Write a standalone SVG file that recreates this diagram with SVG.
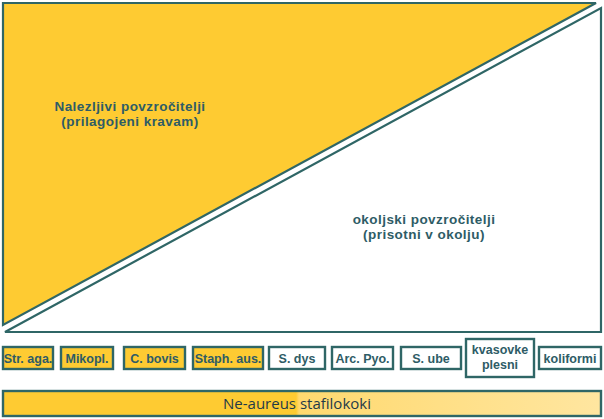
<svg xmlns="http://www.w3.org/2000/svg" width="604" height="419" viewBox="0 0 604 419">
<defs>
<style>
.tri{stroke:#2f6666;stroke-width:2.2;stroke-linejoin:miter}
.box{stroke:#2f6666;stroke-width:2.4}
.y{fill:#fecb32}
.w{fill:#ffffff}
.big{font-family:"Liberation Sans",Arial,sans-serif;font-weight:bold;font-size:13.5px;letter-spacing:0.45px;fill:#2e5c66;text-anchor:middle}
.lbl{font-family:"Liberation Sans",Arial,sans-serif;font-weight:bold;font-size:12.5px;fill:#2e5c66;text-anchor:middle}
.bar{font-family:"Open Sans","Liberation Sans",sans-serif;font-size:15px;fill:#1f3a48;text-anchor:middle}
</style>
<linearGradient id="g" x1="0" y1="0" x2="1" y2="0">
<stop offset="0" stop-color="#fecb32"/>
<stop offset="0.49" stop-color="#fecb32"/>
<stop offset="0.495" stop-color="#ffd96f"/>
<stop offset="1" stop-color="#ffe6a0"/>
</linearGradient>
</defs>
<rect width="604" height="419" fill="#ffffff"/>
<g id="nalezljivi">
<polygon class="tri y" points="3,3 596,3 3,325"/>
<text class="big" x="130" y="111">Nalezljivi povzročitelji<tspan x="130" dy="15.3">(prilagojeni kravam)</tspan></text>
</g>
<g id="okoljski">
<polygon class="tri w" points="601,8 601,332 5,332"/>
<text class="big" x="424" y="224">okoljski povzročitelji<tspan x="424" dy="15.3">(prisotni v okolju)</tspan></text>
</g>
<g id="str-aga"><rect class="box y" x="3" y="347" width="50" height="22"/><text class="lbl" x="28" y="362.5">Str. aga.</text></g>
<g id="mikopl"><rect class="box y" x="61" y="347" width="52" height="22"/><text class="lbl" x="87" y="362.5">Mikopl.</text></g>
<g id="c-bovis"><rect class="box y" x="124" y="347" width="61" height="22"/><text class="lbl" x="154.5" y="362.5">C. bovis</text></g>
<g id="staph-aus"><rect class="box y" x="193" y="347" width="70" height="22"/><text class="lbl" x="228" y="362.5">Staph. aus.</text></g>
<g id="s-dys"><rect class="box w" x="269" y="347" width="56" height="22"/><text class="lbl" x="297" y="362.5">S. dys</text></g>
<g id="arc-pyo"><rect class="box w" x="332" y="347" width="61" height="22"/><text class="lbl" x="362.5" y="362.5">Arc. Pyo.</text></g>
<g id="s-ube"><rect class="box w" x="401" y="347" width="60" height="22"/><text class="lbl" x="431" y="362.5">S. ube</text></g>
<g id="kvasovke"><rect class="box w" x="466" y="339" width="68" height="38"/><text class="lbl" x="500" y="354">kvasovke<tspan x="500" dy="15">plesni</tspan></text></g>
<g id="koliformi"><rect class="box w" x="539" y="347" width="62" height="22"/><text class="lbl" x="570" y="362.5">koliformi</text></g>
<g id="ne-aureus">
<rect x="3" y="391" width="598" height="25" fill="url(#g)" stroke="#2f6666" stroke-width="2.4"/>
<text class="bar" x="297" y="409">Ne-aureus stafilokoki</text>
</g>
<g id="connectors"/>
</svg>
